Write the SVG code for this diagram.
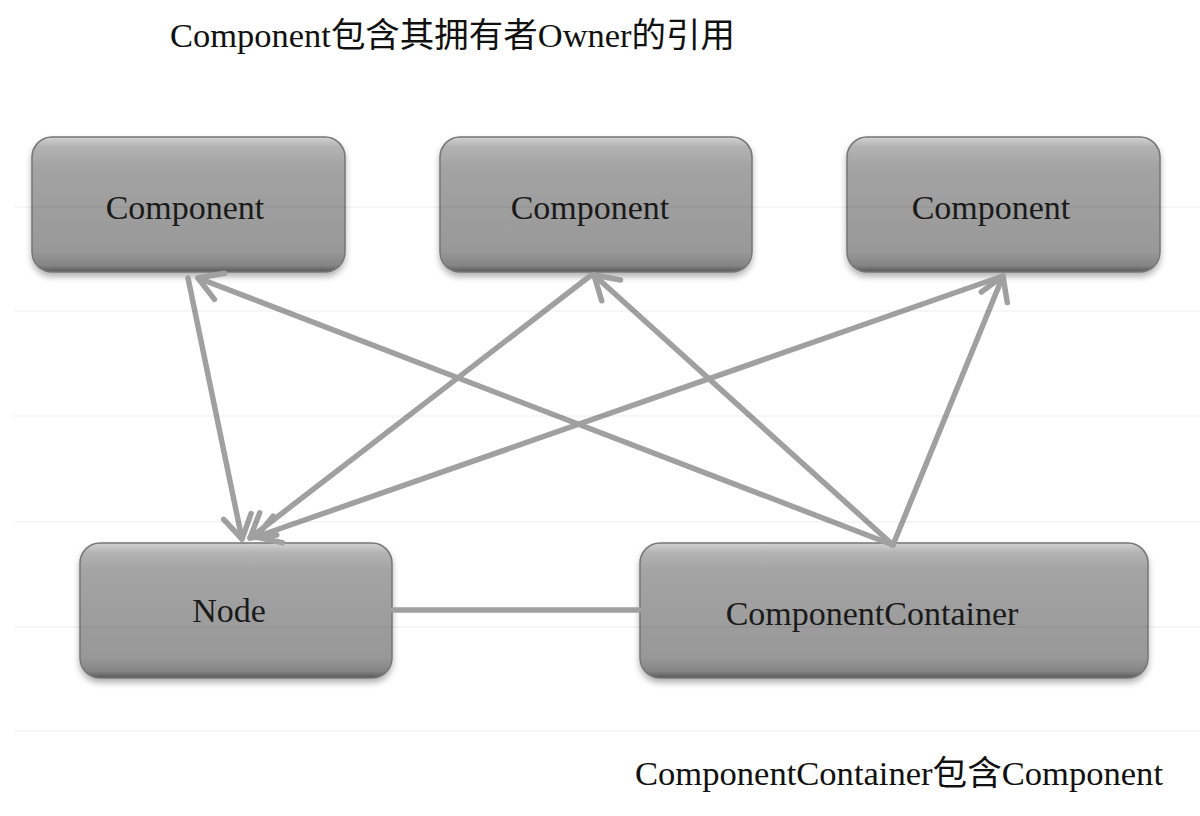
<svg xmlns="http://www.w3.org/2000/svg" width="1200" height="816" viewBox="0 0 1200 816">
<style>
.box{fill:url(#g);stroke:#767676;stroke-width:1.5}
.lbl{font-family:"Liberation Serif","Noto Sans CJK SC",serif;font-size:34px;fill:#1a1a1a;text-anchor:middle}
.cap{font-family:"Liberation Serif","Noto Sans CJK SC",serif;font-size:34px;fill:#111}
.edge{stroke:#a0a0a0;stroke-width:5.5;fill:none;stroke-linecap:round}
.grid{stroke:#000;stroke-opacity:0.07;stroke-width:1.2}
</style>
<defs>
<linearGradient id="g" x1="0" y1="0" x2="0" y2="1">
<stop offset="0" stop-color="#d2d2d2"/>
<stop offset="0.07" stop-color="#b4b4b4"/>
<stop offset="0.2" stop-color="#a4a4a4"/>
<stop offset="0.85" stop-color="#989898"/>
<stop offset="0.95" stop-color="#858585"/>
<stop offset="1" stop-color="#585858"/>
</linearGradient>
<filter id="sh" x="-10%" y="-10%" width="120%" height="130%">
<feDropShadow dx="0" dy="4" stdDeviation="3" flood-color="#000" flood-opacity="0.3"/>
</filter>
<marker id="ah" markerUnits="userSpaceOnUse" markerWidth="36" markerHeight="36" viewBox="-30 -18 36 36" refX="0" refY="0" orient="auto">
<path d="M-23,-14 L0,0 L-23,14" stroke="#a0a0a0" stroke-width="5.5" fill="none" stroke-linecap="round" stroke-linejoin="round"/>
</marker>
</defs>
<rect width="1200" height="816" fill="#fff"/>
<g id="caption-top"><text class="cap" x="170" y="47" textLength="565" lengthAdjust="spacingAndGlyphs">Component包含其拥有者Owner的引用</text></g>
<g id="comp1"><rect class="box" filter="url(#sh)" x="32" y="137" width="313" height="135" rx="20"/><text class="lbl" x="185" y="219">Component</text></g>
<g id="comp2"><rect class="box" filter="url(#sh)" x="440" y="137" width="312" height="135" rx="20"/><text class="lbl" x="590" y="219">Component</text></g>
<g id="comp3"><rect class="box" filter="url(#sh)" x="847" y="137" width="313" height="135" rx="20"/><text class="lbl" x="991" y="219">Component</text></g>
<g id="node"><rect class="box" filter="url(#sh)" x="80" y="543" width="312" height="135" rx="20"/><text class="lbl" x="229" y="622">Node</text></g>
<g id="container"><rect class="box" filter="url(#sh)" x="640" y="543" width="508" height="135" rx="20"/><text class="lbl" x="872" y="625">ComponentContainer</text></g>
<g id="connectors">
<line class="edge" x1="392" y1="610" x2="640" y2="610"/>
<line class="edge" x1="188" y1="278" x2="242" y2="539" marker-end="url(#ah)"/>
<line class="edge" x1="590" y1="276" x2="250" y2="538" marker-end="url(#ah)"/>
<line class="edge" x1="1000" y1="277" x2="256" y2="537" marker-end="url(#ah)"/>
<line class="edge" x1="893" y1="545" x2="198" y2="278" marker-end="url(#ah)"/>
<line class="edge" x1="893" y1="545" x2="594" y2="275" marker-end="url(#ah)"/>
<line class="edge" x1="893" y1="545" x2="1003" y2="276" marker-end="url(#ah)"/>
</g>
<g id="grid">
<line class="grid" x1="14" y1="207" x2="1200" y2="207"/>
<line class="grid" x1="14" y1="311" x2="1200" y2="311"/>
<line class="grid" x1="14" y1="416" x2="1200" y2="416"/>
<line class="grid" x1="14" y1="522" x2="1200" y2="522"/>
<line class="grid" x1="14" y1="627" x2="1200" y2="627"/>
<line class="grid" x1="14" y1="731" x2="1200" y2="731"/>
</g>
<g id="caption-bottom"><text class="cap" x="635" y="785" textLength="528" lengthAdjust="spacingAndGlyphs">ComponentContainer包含Component</text></g>
</svg>
